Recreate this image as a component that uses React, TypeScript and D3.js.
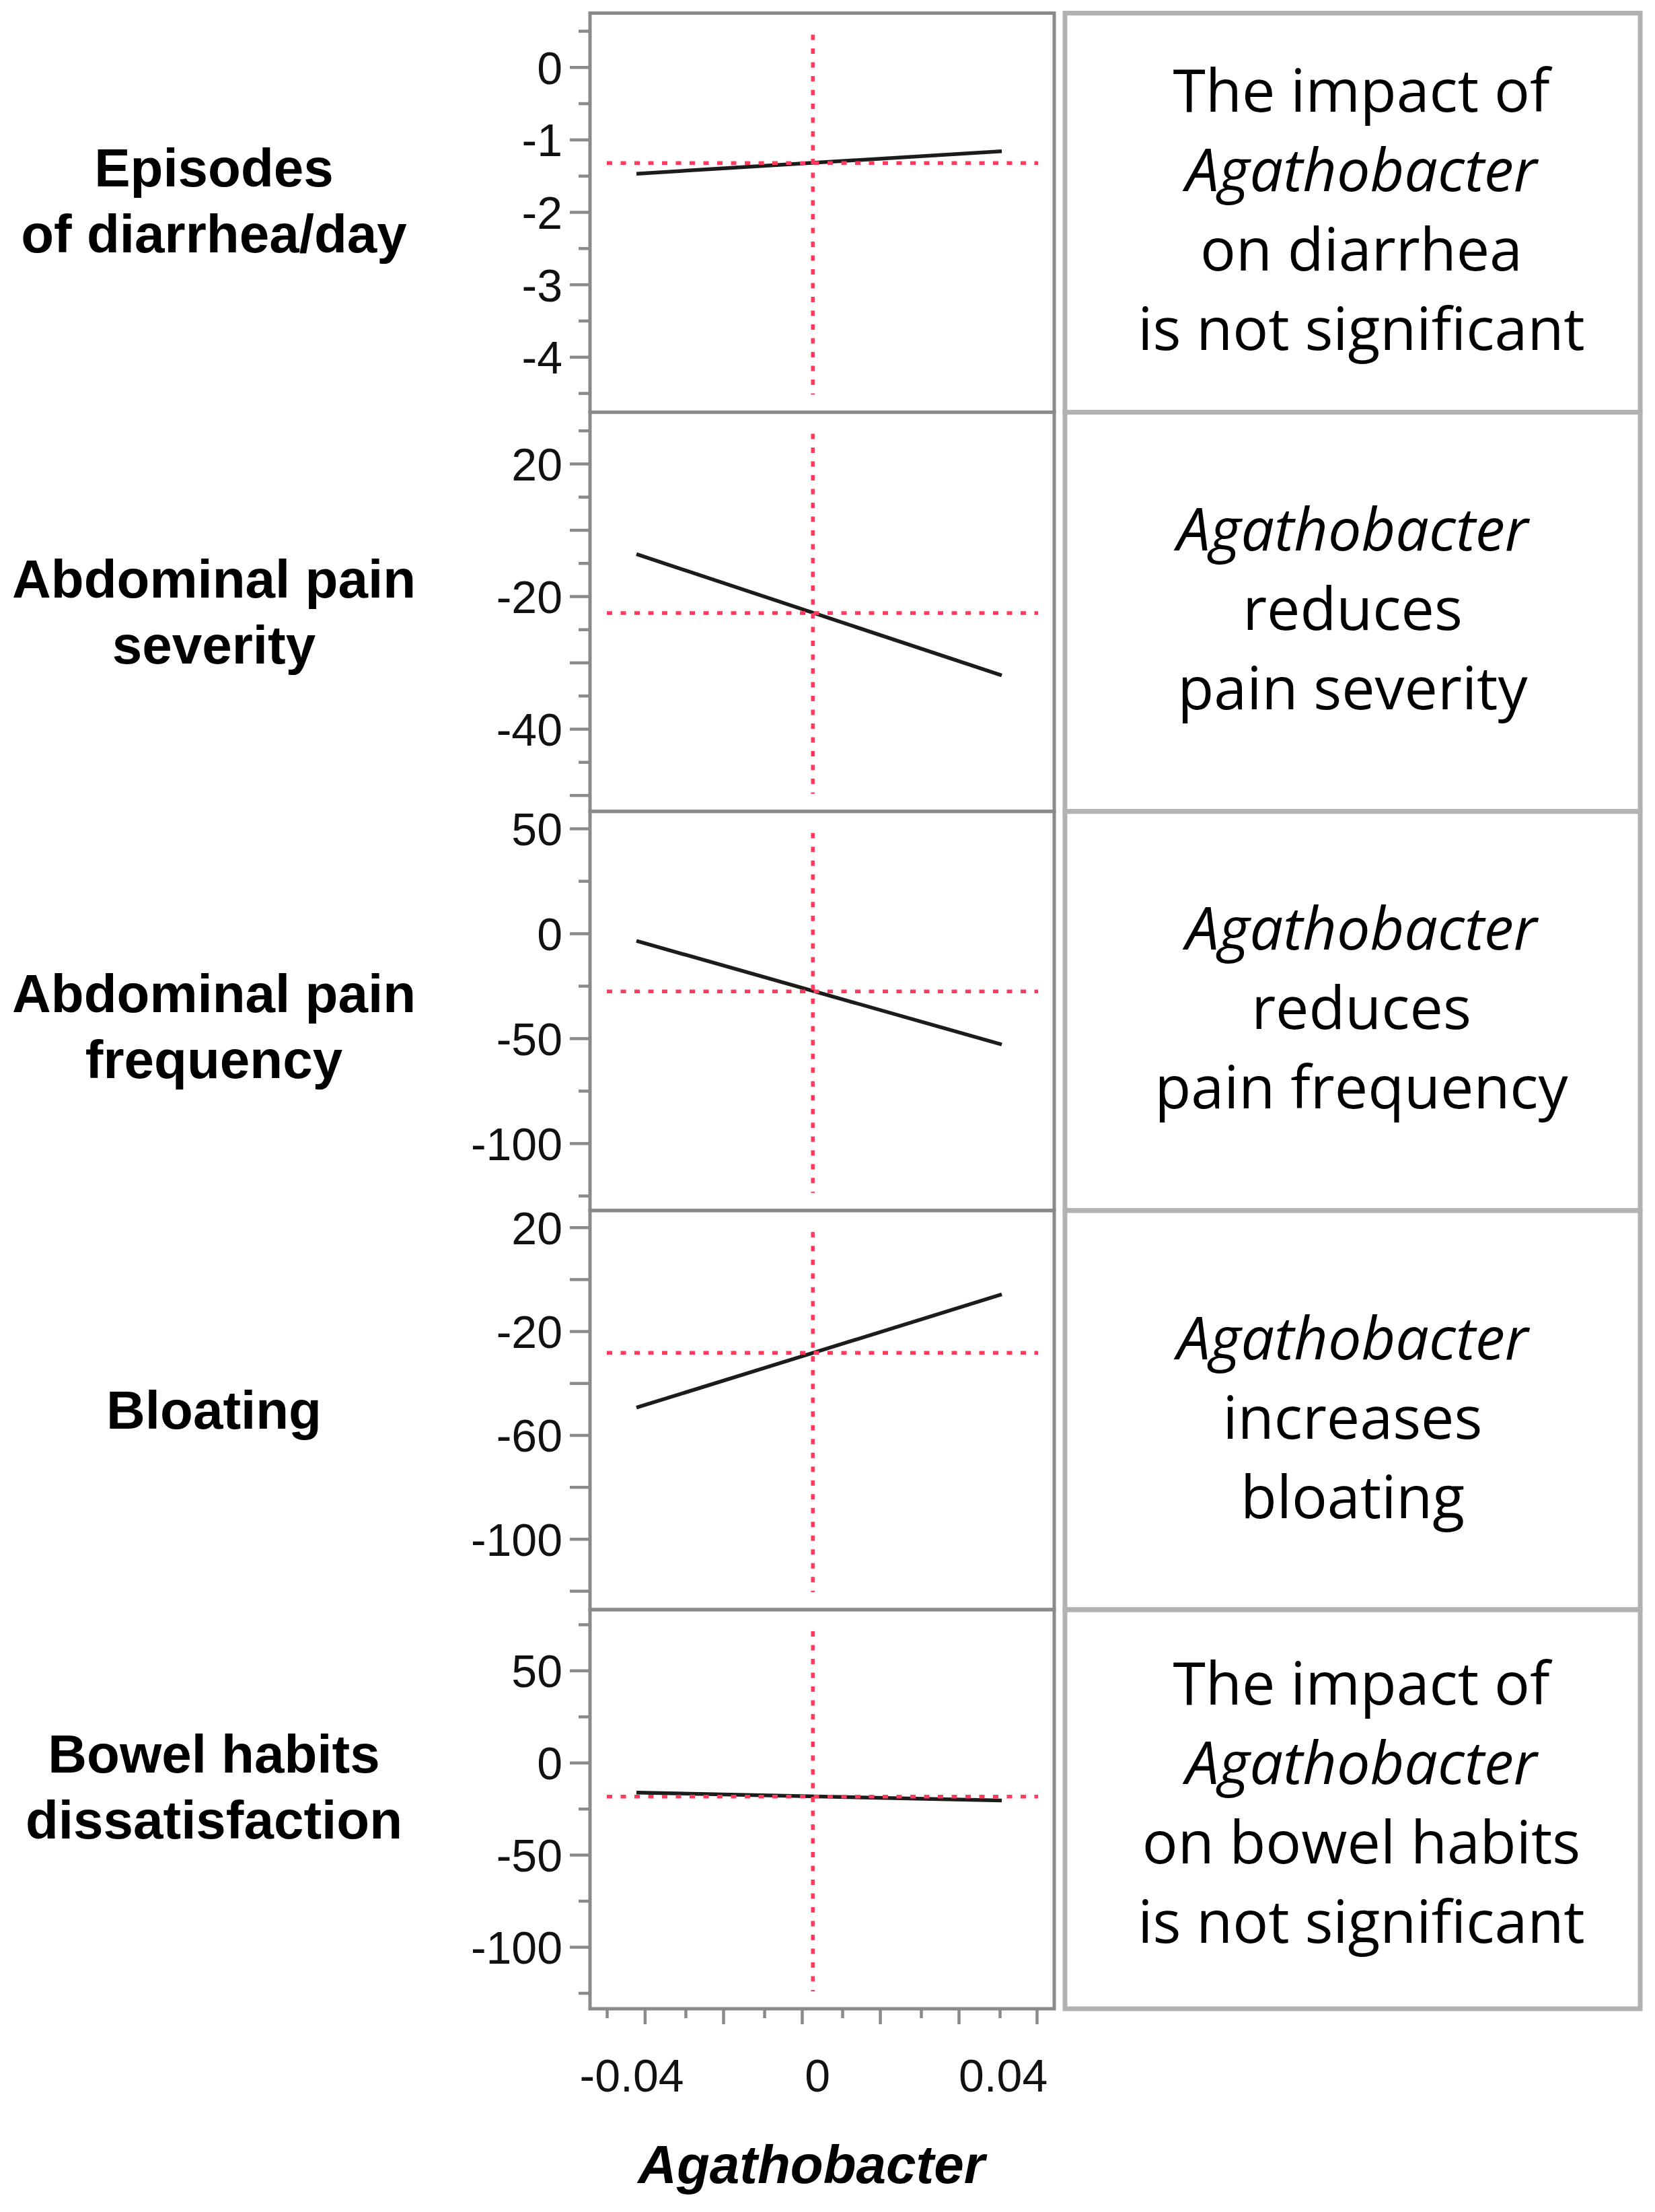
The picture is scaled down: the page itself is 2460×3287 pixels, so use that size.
import React from "react";
import * as d3 from "d3";

// ---------------- data ----------------
const outcomeLabels: string[][] = [
  ["Episodes", "of diarrhea/day"],
  ["Abdominal pain", "severity"],
  ["Abdominal pain", "frequency"],
  ["Bloating"],
  ["Bowel habits", "dissatisfaction"],
];

const boxTexts: string[][] = [
  ["The impact of", "Agathobacter", "on diarrhea", "is not significant"],
  ["Agathobacter", "reduces", "pain severity"],
  ["Agathobacter", "reduces", "pain frequency"],
  ["Agathobacter", "increases", "bloating"],
  ["The impact of", "Agathobacter", "on bowel habits", "is not significant"],
];
const italicWord = "Agathobacter";

// x (Agathobacter) range of the fitted profile line and its current (mean) value
const xRange: [number, number] = [-0.039, 0.0397];
const xMean = -0.001;

// predicted response at both ends of the x range and at the mean
const yAtMin = [-1.467, -13.6, -3.4, -49.3, -16.1];
const yAtMax = [-1.156, -31.9, -52.8, -5.7, -20.4];
const yMean = [-1.32, -22.5, -27.5, -28.2, -18.3];

// axes
const xDomain: [number, number] = [-0.049, 0.051];
const xTickValues = [-0.04, 0, 0.04];
const xTickLabels = ["-0.04", "0", "0.04"];
const xMajorTicks = [-0.03713, -0.02023, -0.00328, 0.01354, 0.03049, 0.0473];
const xMinorTicks = [-0.0453, -0.02835, -0.01139, 0.00542, 0.02238, 0.03933];
const xTitle = "Agathobacter";

const yDomains: [number, number][] = [
  [-4.76, 0.75],
  [-52.4, 7.8],
  [-131.9, 58.3],
  [-127.1, 26.6],
  [-133.4, 83.2],
];
const yTickValues: number[][] = [
  [0, -1, -2, -3, -4],
  [0, -20, -40],
  [50, 0, -50, -100],
  [20, -20, -60, -100],
  [50, 0, -50, -100],
];
const yTickLabels: string[][] = [
  ["0", "-1", "-2", "-3", "-4"],
  ["20", "-20", "-40"],
  ["50", "0", "-50", "-100"],
  ["20", "-20", "-60", "-100"],
  ["50", "0", "-50", "-100"],
];
const yLongTicks: number[][] = [
  [0, -1, -2, -3, -4],
  [0, -10, -20, -30, -40, -50],
  [50, 0, -50, -100],
  [20, 0, -20, -40, -60, -80, -100, -120],
  [50, 0, -50, -100],
];
const yShortTicks: number[][] = [
  [0.5, -0.5, -1.5, -2.5, -3.5, -4.5],
  [5, -5, -15, -25, -35, -45],
  [25, -25, -75, -125],
  [],
  [75, 25, -25, -75, -125],
];

// ---------------- layout ----------------
const W = 2460;
const H = 3287;
const plotLeft = 877;
const plotRight = 1567;
const plotTop = 19.5;
const plotBottom = 2985;
const boxLeft = 1583;
const boxRight = 2438;
const labelCx = 318;
const labelDy = [-18, 0, 23, 0, -33];
const boxDx = [13, 0, 13, 0, 13];
const boxDy = [0, 0, 0, 16, -5];

const frameColor = "#8a8a8a";
const boxColor = "#b2b2b2";
const refColor = "#ff3a5c";
const axisFont = "'Liberation Sans', Arial, sans-serif";
const boxFont = "'Open Sans', sans-serif";

export default function App() {
  const n = outcomeLabels.length;
  const panelH = (plotBottom - plotTop) / n;
  const x = d3.scaleLinear().domain(xDomain).range([plotLeft, plotRight]);

  const panels = outcomeLabels.map((lab, i) => {
    const top = plotTop + i * panelH;
    const bottom = top + panelH;
    const cy = (top + bottom) / 2;
    const y = d3.scaleLinear().domain(yDomains[i]).range([bottom, top]);
    const line = d3
      .line<[number, number]>()
      .x((d) => x(d[0]))
      .y((d) => y(d[1]));
    const pts: [number, number][] = [
      [xRange[0], yAtMin[i]],
      [xRange[1], yAtMax[i]],
    ];
    const hRef = d3.line<[number, number]>()([
      [plotLeft + 25, y(yMean[i])],
      [plotRight - 24, y(yMean[i])],
    ]);
    const vRef = d3.line<[number, number]>()([
      [x(xMean), top + 32],
      [x(xMean), bottom - 26],
    ]);
    const texts = boxTexts[i];
    const boxCx = (boxLeft + boxRight) / 2 + boxDx[i];
    return (
      <g key={i}>
        {/* plot frame */}
        <rect
          x={plotLeft}
          y={top}
          width={plotRight - plotLeft}
          height={panelH}
          fill="none"
          stroke={frameColor}
          strokeWidth={5}
        />
        {/* y ticks */}
        {yLongTicks[i].map((v, k) => (
          <line
            key={"l" + k}
            x1={plotLeft - 30}
            x2={plotLeft}
            y1={y(v)}
            y2={y(v)}
            stroke={frameColor}
            strokeWidth={4.5}
          />
        ))}
        {yShortTicks[i].map((v, k) => (
          <line
            key={"s" + k}
            x1={plotLeft - 17}
            x2={plotLeft}
            y1={y(v)}
            y2={y(v)}
            stroke={frameColor}
            strokeWidth={4.5}
          />
        ))}
        {yTickValues[i].map((v, k) => (
          <text
            key={"t" + k}
            x={plotLeft - 41}
            y={y(v)}
            dy="0.36em"
            textAnchor="end"
            fontFamily={axisFont}
            fontSize={68}
            fill="#111"
          >
            {yTickLabels[i][k]}
          </text>
        ))}
        {/* fitted profile line */}
        <path d={line(pts) || ""} fill="none" stroke="#1c1c1c" strokeWidth={5.5} />
        {/* reference lines */}
        <path d={hRef || ""} stroke={refColor} strokeWidth={5.5} strokeDasharray="8 12.5" fill="none" />
        <path d={vRef || ""} stroke={refColor} strokeWidth={5.5} strokeDasharray="8 12.5" fill="none" />
        {/* outcome label */}
        {lab.map((t, k) => (
          <text
            key={"o" + k}
            x={labelCx}
            y={cy + (k - (lab.length - 1) / 2) * 98 + 28 + labelDy[i]}
            textAnchor="middle"
            fontFamily={axisFont}
            fontWeight="bold"
            fontSize={80}
            fill="#000"
          >
            {t}
          </text>
        ))}
        {/* explanation box */}
        <rect
          x={boxLeft}
          y={top}
          width={boxRight - boxLeft}
          height={panelH}
          fill="none"
          stroke={boxColor}
          strokeWidth={7}
        />
        {texts.map((t, k) => (
          <text
            key={"b" + k}
            x={boxCx}
            y={cy + (k - (texts.length - 1) / 2) * 118 + 27 + boxDy[i]}
            textAnchor="middle"
            fontFamily={boxFont}
            fontStyle={t === italicWord ? "italic" : "normal"}
            fontSize={88}
            fill="#000"
          >
            {t}
          </text>
        ))}
      </g>
    );
  });

  return (
    <svg
      width={W}
      height={H}
      viewBox={`0 0 ${W} ${H}`}
      style={{ position: "absolute", left: 0, top: 0, background: "#fff" }}
    >
      <rect x={0} y={0} width={W} height={H} fill="#fff" />
      {panels}
      {/* x axis */}
      {xMajorTicks.map((v, k) => (
        <line
          key={"xm" + k}
          x1={x(v)}
          x2={x(v)}
          y1={plotBottom}
          y2={plotBottom + 23}
          stroke={frameColor}
          strokeWidth={4.5}
        />
      ))}
      {xMinorTicks.map((v, k) => (
        <line
          key={"xn" + k}
          x1={x(v)}
          x2={x(v)}
          y1={plotBottom}
          y2={plotBottom + 14}
          stroke={frameColor}
          strokeWidth={4.5}
        />
      ))}
      {xTickValues.map((v, k) => (
        <text
          key={"xt" + k}
          x={x(v)}
          y={3108}
          textAnchor="middle"
          fontFamily={axisFont}
          fontSize={68}
          fill="#111"
        >
          {xTickLabels[k]}
        </text>
      ))}
      <text
        x={1206}
        y={3244}
        textAnchor="middle"
        fontFamily={axisFont}
        fontWeight="bold"
        fontStyle="italic"
        fontSize={80}
        fill="#000"
      >
        {xTitle}
      </text>
    </svg>
  );
}
